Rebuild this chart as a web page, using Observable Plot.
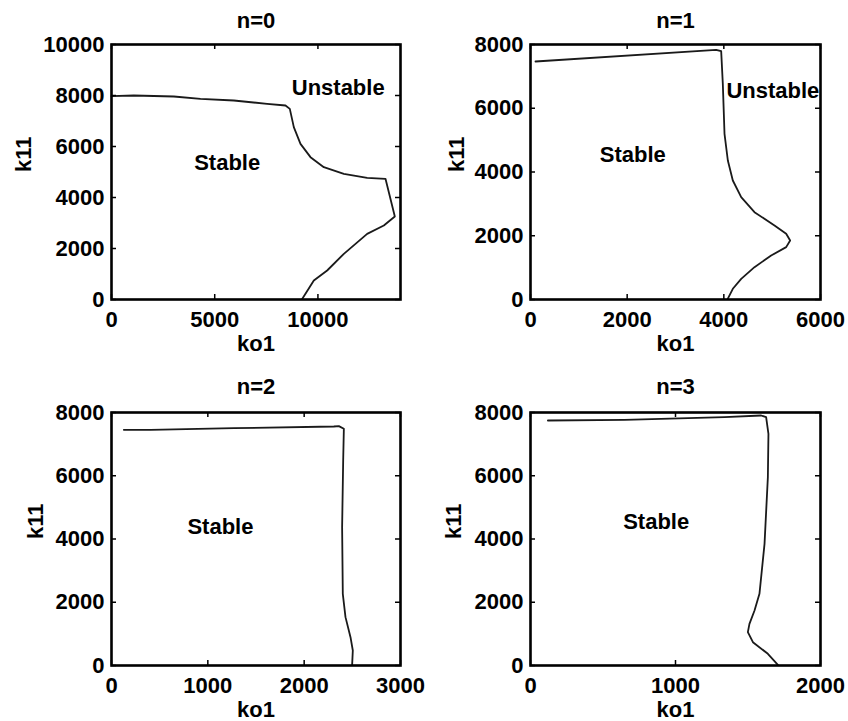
<!DOCTYPE html>
<html>
<head>
<meta charset="utf-8">
<script src="https://cdn.jsdelivr.net/npm/d3@7"></script>
<script src="https://cdn.jsdelivr.net/npm/@observablehq/plot@0.6"></script>
<style>
  body { margin: 0; background: #fff; overflow: hidden; }
  #chart { position: relative; width: 848px; height: 721px; background: #fff; }
  #chart svg { position: absolute; overflow: visible; }
</style>
</head>
<body>
<div id="chart"></div>
<script>
// ---- Data ----
const n0_ko1 = [0, 1081, 3019, 4311, 5926, 7540, 8429, 8638, 8832, 9155, 9640, 10286, 11255, 12385, 13273, 13725, 13192, 12385, 11255, 10447, 9801, 9236];
const n0_k11 = [7974, 8000, 7961, 7869, 7804, 7673, 7608, 7477, 6758, 6104, 5582, 5190, 4928, 4771, 4732, 3255, 2902, 2575, 1791, 1137, 745, 20];
const n0_xticks = [0, 5000, 10000];
const n0_yticks = [0, 2000, 4000, 6000, 8000, 10000];
const n0_labels = ["Stable", "Unstable"];
const n0_labelKo1 = [5604, 10982];
const n0_labelK11 = [5361, 8286];

const n1_ko1 = [103, 3841, 3945, 3979, 4014, 4083, 4186, 4359, 4634, 5048, 5290, 5372, 5290, 4979, 4634, 4359, 4186, 4083];
const n1_k11 = [7467, 7833, 7791, 6766, 5198, 4361, 3733, 3210, 2739, 2322, 2061, 1851, 1642, 1380, 1014, 649, 336, 30];
const n1_xticks = [0, 2000, 4000, 6000];
const n1_yticks = [0, 2000, 4000, 6000, 8000];
const n1_labels = ["Stable", "Unstable"];
const n1_labelKo1 = [2117, 5014];
const n1_labelK11 = [4549, 6557];

const n2_ko1 = [128, 405, 1270, 2308, 2360, 2412, 2405, 2394, 2401, 2429, 2481, 2505, 2498];
const n2_k11 = [7453, 7453, 7504, 7557, 7568, 7484, 6482, 4373, 2267, 1529, 896, 474, 20];
const n2_xticks = [0, 1000, 2000, 3000];
const n2_yticks = [0, 2000, 4000, 6000, 8000];
const n2_labels = ["Stable"];
const n2_labelKo1 = [1131];
const n2_labelK11 = [4373];

const n3_ko1 = [120, 648, 1338, 1591, 1625, 1641, 1637, 1614, 1579, 1545, 1510, 1499, 1534, 1637, 1706];
const n3_k11 = [7747, 7768, 7852, 7905, 7852, 7326, 5955, 3847, 2267, 1739, 1318, 1054, 737, 370, 20];
const n3_xticks = [0, 1000, 2000];
const n3_yticks = [0, 2000, 4000, 6000, 8000];
const n3_labels = ["Stable"];
const n3_labelKo1 = [867];
const n3_labelK11 = [4532];

const titles = ["n=0", "n=1", "n=2", "n=3"];

// ---- Layout ----
const panels = [
  {title: titles[0], left: 0,   top: 0,   width: 424, height: 360, mt: 44, mb: 61, ml: 111, mr: 24,
   xdom: [0, 14000], ydom: [0, 10000], xt: n0_xticks, yt: n0_yticks,
   ko1: n0_ko1, k11: n0_k11, lt: n0_labels, lx: n0_labelKo1, ly: n0_labelK11, titleDy: -24, yLabDx: -88},
  {title: titles[1], left: 424, top: 0,   width: 424, height: 360, mt: 44, mb: 61, ml: 106, mr: 28,
   xdom: [0, 6000], ydom: [0, 8000], xt: n1_xticks, yt: n1_yticks,
   ko1: n1_ko1, k11: n1_k11, lt: n1_labels, lx: n1_labelKo1, ly: n1_labelK11, titleDy: -24, yLabDx: -74},
  {title: titles[2], left: 0,   top: 360, width: 424, height: 361, mt: 52, mb: 56, ml: 111, mr: 24,
   xdom: [0, 3000], ydom: [0, 8000], xt: n2_xticks, yt: n2_yticks,
   ko1: n2_ko1, k11: n2_k11, lt: n2_labels, lx: n2_labelKo1, ly: n2_labelK11, titleDy: -26, yLabDx: -76},
  {title: titles[3], left: 424, top: 360, width: 424, height: 361, mt: 52, mb: 56, ml: 106, mr: 28,
   xdom: [0, 2000], ydom: [0, 8000], xt: n3_xticks, yt: n3_yticks,
   ko1: n3_ko1, k11: n3_k11, lt: n3_labels, lx: n3_labelKo1, ly: n3_labelK11, titleDy: -26, yLabDx: -77}
];

const FONT = "'Liberation Sans', Arial, Helvetica, sans-serif";
const FS = 22;
const TICK = 5;
const fmt = d => String(d);

const container = document.getElementById("chart");

for (const p of panels) {
  const W = p.width - p.ml - p.mr;
  const H = p.height - p.mt - p.mb;
  const curve = p.ko1.map((v, i) => ({ko1: v, k11: p.k11[i]}));
  const labels = p.lt.map((t, i) => ({text: t, ko1: p.lx[i], k11: p.ly[i]}));

  const plot = Plot.plot({
    width: p.width,
    height: p.height,
    marginTop: p.mt,
    marginBottom: p.mb,
    marginLeft: p.ml,
    marginRight: p.mr,
    style: {fontFamily: FONT, fontSize: FS + "px", fontWeight: "bold", color: "#000", background: "transparent", overflow: "visible"},
    x: {domain: p.xdom, ticks: p.xt},
    y: {domain: p.ydom, ticks: p.yt},
    marks: [
      Plot.line(curve, {x: "ko1", y: "k11", stroke: "#1a1a1a", strokeWidth: 1.8, curve: "linear"}),
      // inward ticks on all four sides (MATLAB style)
      Plot.tickX(p.xt, {x: d => d, insetTop: H - TICK, stroke: "#000", strokeWidth: 1.5}),
      Plot.tickX(p.xt, {x: d => d, insetBottom: H - TICK, stroke: "#000", strokeWidth: 1.5}),
      Plot.tickY(p.yt, {y: d => d, insetRight: W - TICK, stroke: "#000", strokeWidth: 1.5}),
      Plot.tickY(p.yt, {y: d => d, insetLeft: W - TICK, stroke: "#000", strokeWidth: 1.5}),
      Plot.frame({stroke: "#000", strokeWidth: 2.6}),
      Plot.axisX({ticks: p.xt, tickSize: 0, tickPadding: 12, tickFormat: fmt, label: null, fontSize: FS, fontWeight: "bold"}),
      Plot.axisY({ticks: p.yt, tickSize: 0, tickPadding: 7, tickFormat: fmt, label: null, fontSize: FS, fontWeight: "bold"}),
      Plot.text(labels, {x: "ko1", y: "k11", text: "text", fontSize: FS, fontWeight: "bold", fill: "#000", textAnchor: "middle", lineAnchor: "middle"}),
      Plot.text([p.title], {text: d => d, frameAnchor: "top", lineAnchor: "middle", dy: p.titleDy, fontSize: FS, fontWeight: "bold", fill: "#000"}),
      Plot.text(["ko1"], {text: d => d, frameAnchor: "bottom", lineAnchor: "middle", dy: 44, fontSize: FS, fontWeight: "bold", fill: "#000"}),
      Plot.text(["k11"], {text: d => d, frameAnchor: "left", lineAnchor: "middle", dx: p.yLabDx, rotate: -90, fontSize: FS, fontWeight: "bold", fill: "#000"})
    ]
  });
  plot.style.left = p.left + "px";
  plot.style.top = p.top + "px";
  container.appendChild(plot);
}
</script>
</body>
</html>
